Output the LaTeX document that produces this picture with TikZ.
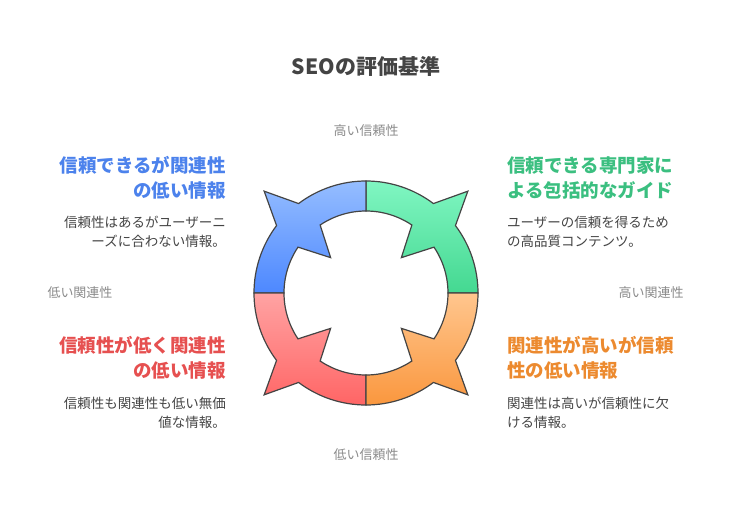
\documentclass[tikz,border=0pt]{standalone}
\usepackage{fontspec}
\setmainfont{Noto Sans CJK JP}
\newfontfamily\cjkbold{Noto Sans CJK JP}[BoldFont={* Bold}]
\definecolor{bluetop}{HTML}{95BDFF}
\definecolor{bluebot}{HTML}{4D88FF}
\definecolor{greentop}{HTML}{80F6C2}
\definecolor{greenbot}{HTML}{44D891}
\definecolor{orangetop}{HTML}{FFC68E}
\definecolor{orangebot}{HTML}{FA973E}
\definecolor{redtop}{HTML}{FFA3A3}
\definecolor{redbot}{HTML}{FF6565}
\definecolor{bluetxt}{HTML}{4C82EC}
\definecolor{greentxt}{HTML}{3BBF80}
\definecolor{orangetxt}{HTML}{EC8A2F}
\definecolor{redtxt}{HTML}{E65050}
\definecolor{bodytxt}{HTML}{444444}
\definecolor{axistxt}{HTML}{8A8A8A}
\definecolor{edge}{HTML}{444444}
\newcommand{\quadpath}[1]{%
  (#1:112) arc[start angle=#1, end angle=#1+37, radius=112]
  -- (#1+45:144) -- (#1+53:112)
  arc[start angle=#1+53, end angle=#1+90, radius=112]
  -- (#1+90:82) arc[start angle=#1+90, end angle=#1+56, radius=82]
  -- (#1+45:50) -- (#1+34:82)
  arc[start angle=#1+34, end angle=#1, radius=82] -- cycle}
\begin{document}
\begin{tikzpicture}[x=1pt,y=1pt,
    heading/.style={font=\fontsize{18.5}{25}\selectfont\bfseries, inner sep=0pt},
    bodytext/.style={font=\fontsize{13.5}{19}\selectfont, text=bodytxt, inner sep=0pt},
    axislabel/.style={font=\fontsize{13}{15}\selectfont, text=axistxt, inner sep=0pt},
    ringpart/.style={draw=edge, line width=1.2pt, line join=miter}]

    \useasboundingbox (0,0) rectangle (732,-528);

    % Title
    \node[font=\fontsize{21}{25}\selectfont\bfseries, text=bodytxt] (title) at (366,-66) {SEOの評価基準};

    % Ring
    \begin{scope}[shift={(366,-293)}]
      \path[ringpart, top color=greentop, bottom color=greenbot] \quadpath{0};
      \path[ringpart, top color=bluetop, bottom color=bluebot] \quadpath{90};
      \path[ringpart, top color=redtop, bottom color=redbot] \quadpath{180};
      \path[ringpart, top color=orangetop, bottom color=orangebot] \quadpath{270};
    \end{scope}

    % Axis labels
    \node[axislabel] (hitrust) at (366,-131) {高い信頼性};
    \node[axislabel] (lotrust) at (366,-455) {低い信頼性};
    \node[axislabel] (lorel) at (80,-293) {低い関連性};
    \node[axislabel] (hirel) at (651,-293) {高い関連性};

    % Quadrant texts
    \node[heading, text=bluetxt, anchor=north east, align=right] (bluehead) at (226,-156) {信頼できるが関連性\\の低い情報};
    \node[bodytext, anchor=north east, align=right] (bluebody) at (226,-216) {信頼性はあるがユーザーニ\\ーズに合わない情報。};

    \node[heading, text=greentxt, anchor=north west, align=left] (greenhead) at (507,-156) {信頼できる専門家に\\よる包括的なガイド};
    \node[bodytext, anchor=north west, align=left] (greenbody) at (507,-216) {ユーザーの信頼を得るため\\の高品質コンテンツ。};

    \node[heading, text=redtxt, anchor=north east, align=right] (redhead) at (226,-336) {信頼性が低く関連性\\の低い情報};
    \node[bodytext, anchor=north east, align=right] (redbody) at (226,-397) {信頼性も関連性も低い無価\\値な情報。};

    \node[heading, text=orangetxt, anchor=north west, align=left] (orangehead) at (507,-336) {関連性が高いが信頼\\性の低い情報};
    \node[bodytext, anchor=north west, align=left] (orangebody) at (507,-397) {関連性は高いが信頼性に欠\\ける情報。};

\end{tikzpicture}
\end{document}
